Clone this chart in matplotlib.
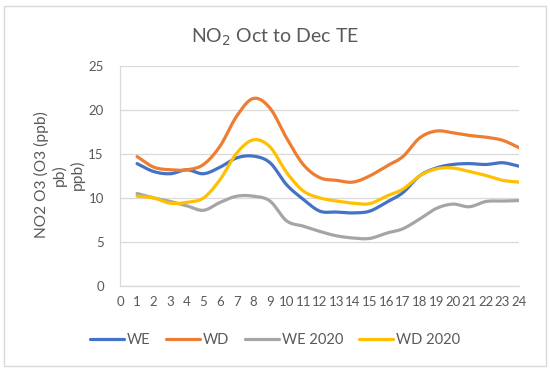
import numpy as np
import matplotlib
matplotlib.use("Agg")
import matplotlib.pyplot as plt
from matplotlib.patches import Rectangle

hours = list(range(1, 25))
we = [13.9, 13.0, 12.75, 13.2, 12.75, 13.5, 14.55, 14.75, 14.0, 11.5, 9.85, 8.5,
      8.4, 8.3, 8.5, 9.5, 10.6, 12.5, 13.4, 13.8, 13.9, 13.8, 14.0, 13.6]
wd = [14.7, 13.5, 13.2, 13.2, 13.8, 15.9, 19.3, 21.3, 20.2, 16.8, 13.8, 12.3,
      12.0, 11.8, 12.5, 13.6, 14.7, 16.8, 17.6, 17.4, 17.1, 16.9, 16.55, 15.7]
we2020 = [10.5, 10.0, 9.6, 9.1, 8.6, 9.5, 10.2, 10.2, 9.65, 7.4, 6.8, 6.2,
          5.7, 5.45, 5.4, 6.0, 6.5, 7.6, 8.8, 9.3, 9.0, 9.6, 9.65, 9.7]
wd2020 = [10.2, 10.0, 9.4, 9.5, 10.0, 12.1, 15.1, 16.6, 15.8, 12.9, 10.8, 10.0,
          9.65, 9.4, 9.35, 10.2, 11.0, 12.5, 13.3, 13.4, 13.0, 12.55, 12.0, 11.8]
series_names = ["WE", "WD", "WE 2020", "WD 2020"]
x_ticks = list(range(0, 25))
y_ticks = [0, 5, 10, 15, 20, 25]

colors = ["#4472C4", "#ED7D31", "#A5A5A5", "#FFC000"]
txt = "#595959"
plt.rcParams['font.family'] = ['Lato', 'DejaVu Sans']


def smooth(x, y, n=20):
    """Catmull-Rom rendering of the line (Excel-style smoothed line)."""
    x = np.asarray(x, float)
    y = np.asarray(y, float)
    px = np.concatenate([[2 * x[0] - x[1]], x, [2 * x[-1] - x[-2]]])
    py = np.concatenate([[2 * y[0] - y[1]], y, [2 * y[-1] - y[-2]]])
    xs, ys = [], []
    t = np.linspace(0, 1, n, endpoint=False)
    for i in range(1, len(px) - 2):
        p0, p1, p2, p3 = px[i - 1:i + 3]
        q0, q1, q2, q3 = py[i - 1:i + 3]
        for a, b0, b1, b2, b3 in ((xs, p0, p1, p2, p3), (ys, q0, q1, q2, q3)):
            a.extend(0.5 * (2 * b1 + (-b0 + b2) * t + (2 * b0 - 5 * b1 + 4 * b2 - b3) * t ** 2
                            + (-b0 + 3 * b1 - 3 * b2 + b3) * t ** 3))
    xs.append(x[-1])
    ys.append(y[-1])
    return np.array(xs), np.array(ys)


fig = plt.figure(figsize=(5.5, 3.7), dpi=100)
fig.patches.append(Rectangle((0.008, 0.012), 0.984, 0.972, transform=fig.transFigure,
                             facecolor="white", edgecolor="#D9D9D9", linewidth=1.0,
                             zorder=-10))
ax = fig.add_axes([0.219, 0.227, 0.725, 0.595])
ax.set_facecolor("none")

for vals, c, name in zip([we, wd, we2020, wd2020], colors, series_names):
    sx, sy = smooth(hours, vals)
    ax.plot(sx, sy, color=c, lw=2.3, label=name, solid_capstyle='round')

ax.set_xlim(0, 24)
ax.set_ylim(0, 25)
ax.set_xticks(x_ticks)
ax.set_xticklabels([str(v) for v in x_ticks])
ax.set_yticks(y_ticks)
ax.grid(axis='y', color="#D9D9D9", lw=0.9)
ax.set_axisbelow(True)
for s in ["top", "right"]:
    ax.spines[s].set_visible(False)
for s in ["left", "bottom"]:
    ax.spines[s].set_color("#D9D9D9")
    ax.spines[s].set_linewidth(0.9)
ax.tick_params(length=0, colors=txt, labelsize=9.5)
ax.tick_params(axis='x', pad=7)
ax.tick_params(axis='y', pad=12)

fig.text(0.5, 0.9, r"NO$_2$ Oct to Dec TE", ha='center', va='center', fontsize=14, color=txt)

for xp, s in zip([41, 59, 77], ["NO2 O3 (O3 (ppb)", "pb)", "ppb)"]):
    fig.text(xp / 550, 1 - 175 / 370, s, rotation=90, ha='center', va='center',
             fontsize=11.2, color=txt)

leg = fig.legend(loc='center', bbox_to_anchor=(0.5, 1 - 340 / 370), ncol=4, frameon=False,
                 fontsize=10.5, handlelength=2.3, columnspacing=1.1, handletextpad=0.2)
for t in leg.get_texts():
    t.set_color(txt)

fig.savefig("out.png", dpi=100)
